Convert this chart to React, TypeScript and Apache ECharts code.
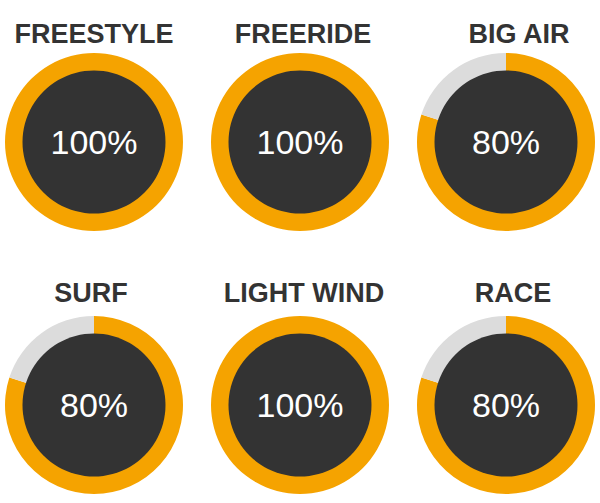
import React, { useEffect, useRef } from 'react';
import * as echarts from 'echarts';

// 各项技能名称与完成度
const categories = ['FREESTYLE', 'FREERIDE', 'BIG AIR', 'SURF', 'LIGHT WIND', 'RACE'];
const values = [100, 100, 80, 80, 100, 80];

const centersX = [94, 300, 506];
const centersY = [142, 405];
const titleTop = [15, 274];
const titleX = [89, 298, 514, 86, 299, 508];

const ORANGE = '#F5A300';
const GREY = '#DCDCDC';
const DARK = '#333333';

const App: React.FC = () => {
  const chartRef = useRef<HTMLDivElement>(null);

  useEffect(() => {
    if (!chartRef.current) return;
    const chart = echarts.init(chartRef.current, null, { renderer: 'svg' });

    const titles: any[] = [];
    const series: any[] = [];

    categories.forEach((name, i) => {
      const row = Math.floor(i / 3);
      const cx = centersX[i % 3];
      const cy = centersY[row];
      const v = values[i];

      titles.push({
        text: name,
        left: titleX[i],
        top: titleTop[row],
        textAlign: 'center',
        textStyle: {
          fontFamily: 'Liberation Sans, Arial, sans-serif',
          fontSize: 27,
          fontWeight: 'bold',
          color: '#333',
        },
      });

      // 外圈进度环
      series.push({
        type: 'pie',
        center: [cx, cy],
        radius: [70, 89],
        startAngle: 90,
        clockwise: true,
        silent: true,
        label: { show: false },
        labelLine: { show: false },
        itemStyle: { borderWidth: 0 },
        data: [
          { value: v, name: name, itemStyle: { color: ORANGE } },
          { value: 100 - v, name: 'rest', itemStyle: { color: GREY } },
        ],
      });

      // 内部深色圆与百分比
      series.push({
        type: 'pie',
        center: [cx, cy],
        radius: [0, 71.5],
        silent: true,
        labelLine: { show: false },
        itemStyle: { color: DARK, borderWidth: 0 },
        label: {
          show: true,
          position: 'center',
          formatter: v + '%',
          color: '#fff',
          fontSize: 34,
          fontFamily: 'Liberation Sans, Arial, sans-serif',
        },
        data: [{ value: 1, name: name + '-inner' }],
      });
    });

    chart.setOption({
      animation: false,
      backgroundColor: '#fff',
      title: titles,
      series,
    });

    return () => {
      chart.dispose();
    };
  }, []);

  return (
    <div
      ref={chartRef}
      style={{ position: 'absolute', left: 0, top: 0, width: '600px', height: '503px' }}
    />
  );
};

export default App;
